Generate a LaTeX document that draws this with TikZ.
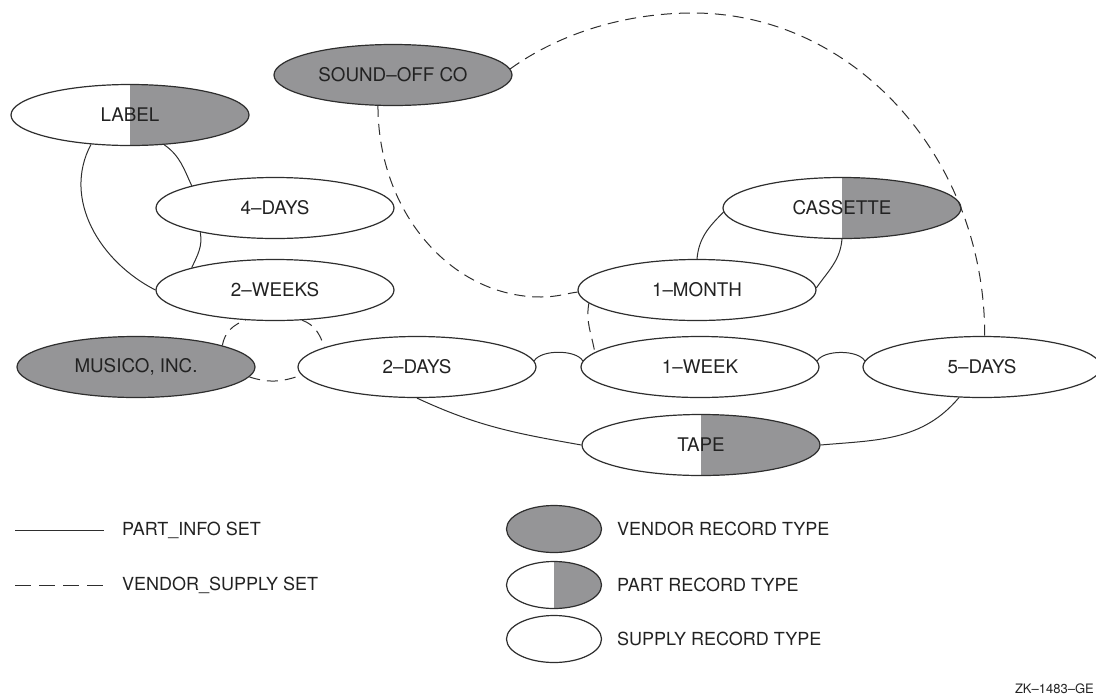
\documentclass[tikz,border=0pt]{standalone}
\usepackage{fontspec}
\setmainfont{TeX Gyre Heros}
\usetikzlibrary{shapes.geometric}
\definecolor{ln}{HTML}{2E2E2E}
\definecolor{vg}{HTML}{959597}
\definecolor{tx}{HTML}{222222}
\begin{document}
\begin{tikzpicture}[x=1pt,y=-1pt,
  rec/.style={ellipse, draw=ln, line width=1.2pt, minimum width=238pt, minimum height=61pt, inner sep=0pt, font=\fontsize{18.8}{20}\selectfont, text=tx},
  vendor/.style={rec, fill=vg},
  supply/.style={rec, fill=white},
  part/.style={rec, fill=white, path picture={\fill[vg] (path picture bounding box.south) rectangle (path picture bounding box.north east);}},
  lgsize/.style={minimum width=95pt, minimum height=47pt},
  pset/.style={draw=ln, line width=1pt},
  vset/.style={draw=ln, line width=1pt, dash pattern=on 11pt off 7pt},
  lgtext/.style={anchor=west, font=\fontsize{18}{20}\selectfont, text=tx, inner sep=0pt},
]
\useasboundingbox (0,0) rectangle (1096,697);

% record nodes
\node[part]   (lb) at (130,115) {LABEL};
\node[vendor] (so) at (393,75)  {SOUND–OFF CO};
\node[supply] (d4) at (275,208) {4–DAYS};
\node[supply] (tw) at (275,290) {2–WEEKS};
\node[vendor] (mu) at (136,367) {MUSICO, INC.};
\node[supply] (td) at (417,367) {2–DAYS};
\node[supply] (wk) at (700,367) {1–WEEK};
\node[supply] (fd) at (982,367) {5–DAYS};
\node[supply] (mo) at (697,290) {1–MONTH};
\node[part]   (cs) at (842,208) {CASSETTE};
\node[part]   (tp) at (701,445) {TAPE};

% PART_INFO set (solid)
\draw[pset] (lb.-41) to[out=-35,in=115] (d4.165);
\draw[pset] (lb.217) to[out=-118,in=153] (tw.180);
\draw[pset] (d4.198) to[out=-80,in=65] (tw.165);
\draw[pset] (cs.182) to[out=-135,in=85] (mo.90);
\draw[pset] (cs.270) to[out=-95,in=55] (mo.1);
\draw[pset] (td.3) to[out=60,in=120,looseness=0.7] (wk.177);
\draw[pset] (wk.3) to[out=60,in=120,looseness=0.7] (fd.177);
\draw[pset] (td.south) to[out=-25,in=170] (tp.west);
\draw[pset] (tp.east) to[out=5,in=230] (fd.233);

% VENDOR_SUPPLY set (dashed)
\draw[vset] (so.3) .. controls (560,33) and (626,13) .. (693,13) .. controls (854,13) and (985,158) .. (fd.85);
\draw[vset] (so.244) .. controls (378,212) and (451,297) .. (541,297) .. controls (558,297) and (568,293) .. (mo.181);
\draw[vset] (mo.187) to[out=-100,in=100] (wk.172);
\draw[vset] (mu.14) to[out=80,in=199] (tw.226);
\draw[vset] (tw.312) to[out=-20,in=109] (td.168);
\draw[vset] (mu.-5) to[out=-18,in=200] (td.184);

% legend
\coordinate (ls1) at (15,530);
\coordinate (le1) at (104,530);
\draw[pset] (ls1) -- (le1);
\node[lgtext] (lt1) at (122,530) {PART\_INFO SET};
\coordinate (ls2) at (15,585);
\coordinate (le2) at (104,585);
\draw[draw=ln, line width=1pt, dash pattern=on 16pt off 8pt] (ls2) -- (le2);
\node[lgtext] (lt2) at (122,585) {VENDOR\_SUPPLY SET};

\node[vendor, lgsize] (lv) at (554,529) {};
\node[part, lgsize]   (lp) at (554,585) {};
\node[supply, lgsize] (lsu) at (554,639) {};
\node[lgtext] (tv) at (617,529) {VENDOR RECORD TYPE};
\node[lgtext] (tpp) at (617,585) {PART RECORD TYPE};
\node[lgtext] (tsu) at (617,639) {SUPPLY RECORD TYPE};

\node[anchor=east, inner sep=0pt, font=\fontsize{13}{14}\selectfont, text=tx] (zk) at (1094,689) {ZK–1483–GE};
\end{tikzpicture}
\end{document}
